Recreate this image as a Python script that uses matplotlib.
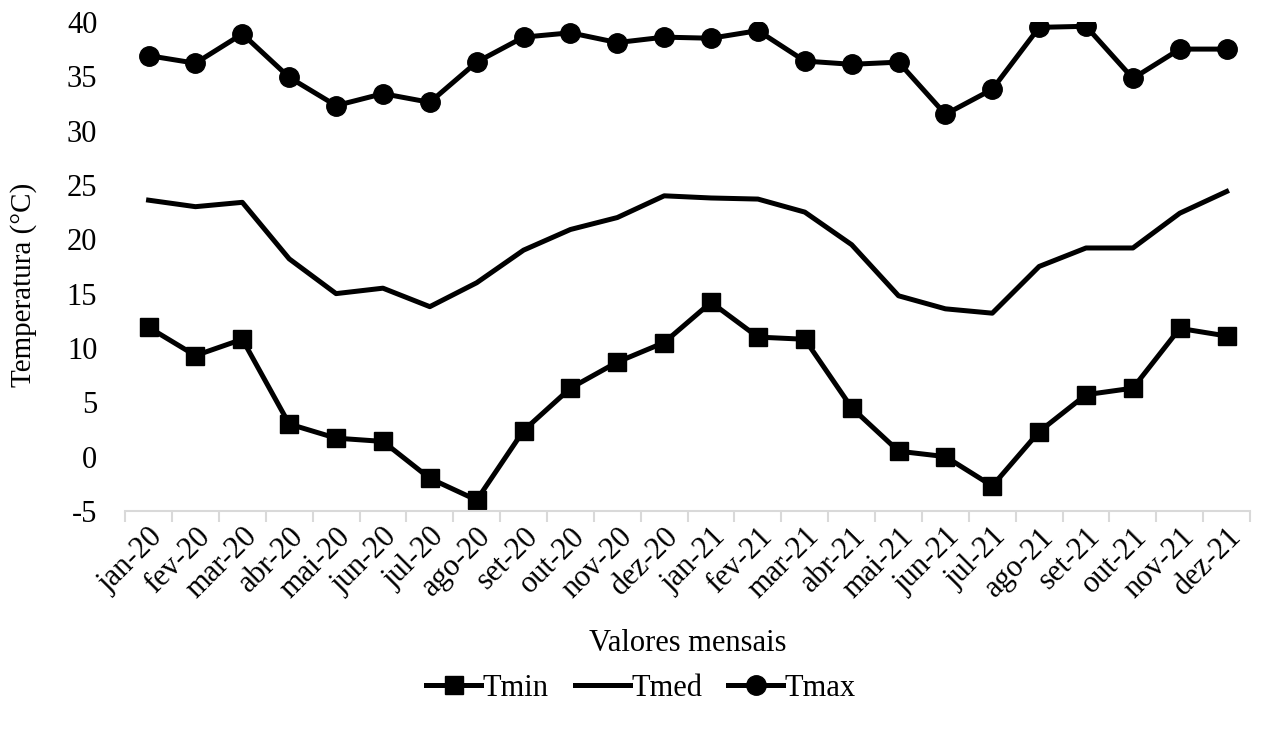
import matplotlib
matplotlib.use("Agg")
import matplotlib.pyplot as plt
import numpy as np

months = ["jan-20", "fev-20", "mar-20", "abr-20", "mai-20", "jun-20", "jul-20", "ago-20",
          "set-20", "out-20", "nov-20", "dez-20", "jan-21", "fev-21", "mar-21", "abr-21",
          "mai-21", "jun-21", "jul-21", "ago-21", "set-21", "out-21", "nov-21", "dez-21"]

tmin = [11.9, 9.3, 10.8, 3.0, 1.7, 1.4, -2.0, -4.0, 2.4, 6.3, 8.7, 10.5,
        14.2, 11.0, 10.8, 4.5, 0.5, 0.0, -2.7, 2.3, 5.7, 6.3, 11.8, 11.1]
tmed = [23.6, 23.0, 23.4, 18.2, 15.0, 15.5, 13.8, 16.0, 19.0, 20.9, 22.0, 24.0,
        23.8, 23.7, 22.5, 19.5, 14.8, 13.6, 13.2, 17.5, 19.2, 19.2, 22.4, 24.4]
tmax = [36.9, 36.2, 38.9, 34.9, 32.3, 33.4, 32.6, 36.3, 38.6, 39.0, 38.1, 38.6,
        38.5, 39.2, 36.4, 36.1, 36.3, 31.5, 33.8, 39.5, 39.6, 34.8, 37.5, 37.5]

yticks = [-5, 0, 5, 10, 15, 20, 25, 30, 35, 40]

plt.rcParams['font.family'] = ['Liberation Serif', 'DejaVu Serif']

fig = plt.figure(figsize=(12.64, 7.31), dpi=100)
ax = fig.add_axes([0.099, 0.301, 0.890, 0.669])

x = np.arange(len(months))
lw = 3.6
ax.plot(x, tmin, color='black', lw=lw, marker='s', markersize=13, label='Tmin')
ax.plot(x, tmed, color='black', lw=lw, label='Tmed')
ax.plot(x, tmax, color='black', lw=lw, marker='o', markersize=14, label='Tmax')

ax.set_xlim(-0.5, len(months) - 0.5)
ax.set_ylim(-5, 40)
ax.set_yticks(yticks)
ax.set_yticklabels([str(v) for v in yticks])
ax.tick_params(axis='y', length=0, pad=20, labelsize=22)

ax.set_xticks(np.arange(-0.5, len(months), 1.0), minor=True)
ax.set_xticks(x)
ax.set_xticklabels(months)
ax.tick_params(axis='x', which='major', length=0, pad=8, labelsize=22, labelrotation=45)
for lab in ax.get_xticklabels():
    lab.set_ha('right')
    lab.set_rotation_mode('anchor')
ax.tick_params(axis='x', which='minor', length=8, width=1.5, color='#d9d9d9')

for s in ['top', 'right', 'left']:
    ax.spines[s].set_visible(False)
ax.spines['bottom'].set_color('#d9d9d9')
ax.spines['bottom'].set_linewidth(1.5)

ax.set_ylabel('Temperatura (°C)', fontsize=21)
ax.yaxis.set_label_coords(-0.078, 0.462)
ax.set_xlabel('Valores mensais', fontsize=22, labelpad=18)

fig.legend(loc='center', bbox_to_anchor=(0.507, 0.058), ncol=3, frameon=False,
           fontsize=22, handlelength=1.8, handletextpad=0.05, columnspacing=0.85)

fig.savefig('out.png', dpi=100)
